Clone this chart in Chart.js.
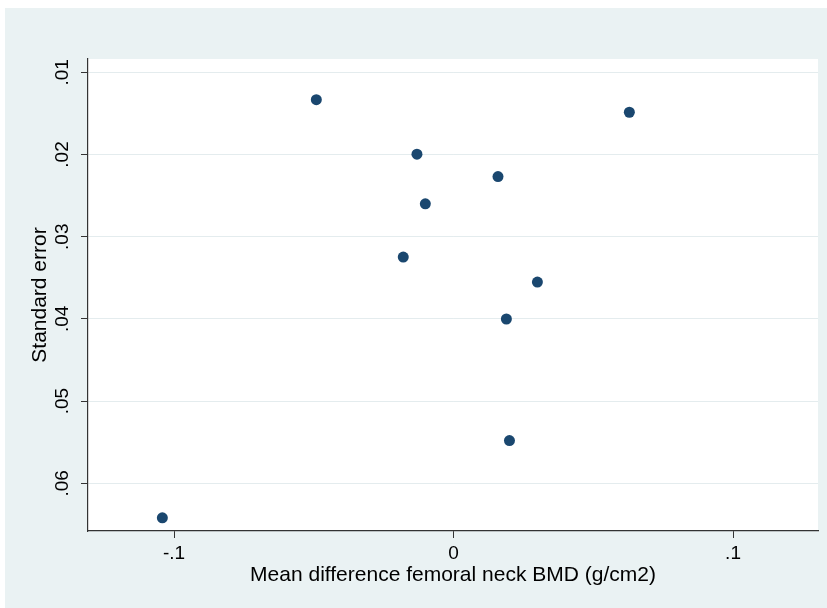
<!DOCTYPE html>
<html>
<head>
<meta charset="utf-8">
<script src="https://cdn.jsdelivr.net/npm/chart.js@4"></script>
<style>
  body { margin: 0; background: #ffffff; }
  #wrap { position: absolute; left: 5px; top: 8px; width: 822px; height: 600px; }
</style>
</head>
<body>
<div id="wrap"><canvas id="funnel" width="822" height="600"></canvas></div>
<script>
// mean difference (x) and its standard error (y) for each study
const meanDiff = [-0.0491, 0.0629, -0.0131, 0.0159, -0.0101, -0.0180, 0.0300, 0.0189, 0.0200, -0.1042];
const stdError = [0.01333, 0.01486, 0.01996, 0.02269, 0.02600, 0.03248, 0.03552, 0.04001, 0.05480, 0.06420];
const xTicks = [-0.1, 0, 0.1];
const yTicks = [0.01, 0.02, 0.03, 0.04, 0.05, 0.06];

const points = meanDiff.map((x, i) => ({ x: x, y: stdError[i] }));

// strip leading zero the way Stata prints it (.01, -.1)
function stataFmt(v) {
    if (Math.abs(v) < 1e-9) return '0';
    return String(+v.toFixed(3)).replace('0.', '.');
}

const bgPlugin = {
    id: 'bg',
    beforeDraw(chart) {
        const ctx = chart.ctx;
        const a = chart.chartArea;
        ctx.save();
        ctx.fillStyle = '#EAF2F3';
        ctx.fillRect(0, 0, chart.width, chart.height);
        ctx.fillStyle = '#ffffff';
        ctx.fillRect(a.left, a.top, a.right - a.left, a.bottom - a.top);
        ctx.restore();
    }
};

Chart.defaults.font.family = '"Liberation Sans", Arial, Helvetica, sans-serif';
Chart.defaults.color = '#000000';

new Chart(document.getElementById('funnel').getContext('2d'), {
    type: 'scatter',
    data: {
        datasets: [{
            data: points,
            backgroundColor: '#1A476F',
            borderWidth: 0,
            pointRadius: 5.5,
            pointHoverRadius: 5.5
        }]
    },
    options: {
        responsive: false,
        animation: false,
        events: [],
        layout: { padding: { top: 51, right: 9, left: 0, bottom: 0 } },
        plugins: { legend: { display: false }, tooltip: { enabled: false } },
        scales: {
            x: {
                type: 'linear',
                min: -0.1308,
                max: 0.1304,
                afterBuildTicks: s => { s.ticks = xTicks.map(v => ({ value: v })); },
                afterFit: s => { s.height = 77; },
                border: { display: true, color: '#333333', width: 1.2 },
                grid: { drawOnChartArea: false, drawTicks: true, tickLength: 7, tickColor: '#333333' },
                ticks: { font: { size: 19 }, padding: 4, callback: v => stataFmt(v) },
                title: {
                    display: true,
                    text: 'Mean difference femoral neck BMD (g/cm2)',
                    font: { size: 21 },
                    padding: { top: 0, bottom: 20 }
                }
            },
            y: {
                type: 'linear',
                reverse: true,
                min: 0.008383,
                max: 0.0658,
                afterBuildTicks: s => { s.ticks = yTicks.map(v => ({ value: v })); },
                afterFit: s => { s.width = 83; },
                border: { display: true, color: '#333333', width: 1.2 },
                grid: { color: '#E4ECEE', lineWidth: 1, drawTicks: true, tickLength: 7, tickColor: '#333333' },
                ticks: {
                    font: { size: 19 },
                    padding: 5,
                    minRotation: 90,
                    maxRotation: 90,
                    crossAlign: 'center',
                    callback: v => stataFmt(v)
                },
                title: {
                    display: true,
                    text: 'Standard error',
                    font: { size: 21 },
                    padding: { top: 23, bottom: 0 }
                }
            }
        }
    },
    plugins: [bgPlugin]
});
</script>
</body>
</html>
